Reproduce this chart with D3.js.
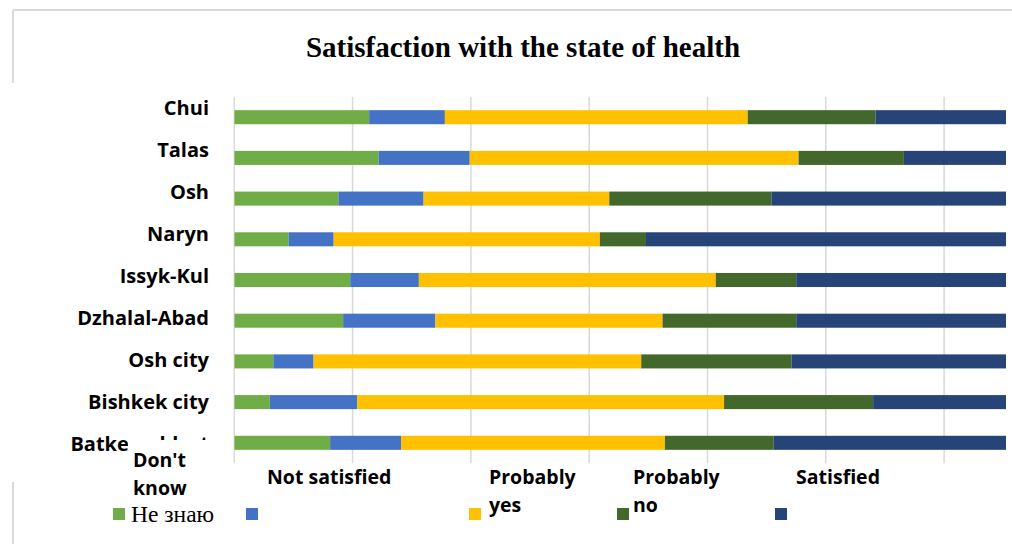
<!DOCTYPE html>
<html>
<head>
<meta charset="utf-8">
<script src="https://cdn.jsdelivr.net/npm/d3@7"></script>
<style>
  html, body { margin: 0; padding: 0; background: #fff; }
  svg { display: block; }
</style>
</head>
<body>
<svg id="chart" width="1012" height="544"></svg>
<script>
// Regions (top to bottom) and shares of answers, %
const categories = ["Chui", "Talas", "Osh", "Naryn", "Issyk-Kul", "Dzhalal-Abad", "Osh city", "Bishkek city", "Batken oblast"];
const dontKnow     = [11.4, 12.2,  8.8,  4.6,  9.8,  9.2,  3.3,  3.0,  8.1];
const notSatisfied = [ 6.4,  7.7,  7.2,  3.8,  5.8,  7.8,  3.4,  7.4,  6.0];
const probablyYes  = [25.6, 27.8, 15.7, 22.5, 25.1, 19.2, 27.7, 31.0, 22.3];
const probablyNo   = [10.8,  8.9, 13.7,  3.9,  6.8, 11.3, 12.7, 12.6,  9.2];
const satisfied    = [45.8, 43.4, 54.6, 65.2, 52.5, 52.5, 52.9, 46.0, 54.4];

const seriesKeys   = ["dontKnow", "notSatisfied", "probablyYes", "probablyNo", "satisfied"];
const seriesLabels = [["Don't", "know"], ["Not satisfied"], ["Probably", "yes"], ["Probably", "no"], ["Satisfied"]];
const legendNative = ["Не знаю"];
const xTicks = [0, 10, 20, 30, 40, 50, 60, 70, 80, 90, 100];
const title = "Satisfaction with the state of health";

const colors = ["#70ad47", "#4472c4", "#ffc000", "#43682b", "#264478"];

const rows = categories.map((c, i) => ({
  region: c,
  dontKnow: dontKnow[i],
  notSatisfied: notSatisfied[i],
  probablyYes: probablyYes[i],
  probablyNo: probablyNo[i],
  satisfied: satisfied[i]
}));

const svg = d3.select("#chart");
const plot = { left: 234.3, right: 1006, top: 96.7, bottom: 463.3 };

// chart frame (left edge is interrupted by the label panels)
const frame = svg.append("g").attr("stroke", "#d9d9d9").attr("stroke-width", 2).attr("fill", "none");
frame.append("line").attr("x1", 13).attr("y1", 10).attr("x2", 1012).attr("y2", 10);
frame.append("line").attr("x1", 13).attr("y1", 10).attr("x2", 13).attr("y2", 83);
frame.append("line").attr("x1", 13).attr("y1", 482).attr("x2", 13).attr("y2", 544);

// title
svg.append("text")
  .attr("x", 523).attr("y", 57)
  .attr("text-anchor", "middle")
  .attr("font-family", "'Liberation Serif', 'Times New Roman', serif")
  .attr("font-weight", "bold")
  .attr("font-size", 29)
  .attr("fill", "#000")
  .text(title);

// scales: 10% per gridline, plot area shows the left part of the 0–100% axis
const x = d3.scaleLinear().domain([0, 100]).range([plot.left, plot.left + 1183]);
const y = d3.scaleBand().domain(categories).range([plot.top, plot.bottom])
  .paddingInner(0.655).paddingOuter(0.331);
const yLabel = d3.scalePoint().domain(categories).range([115, 451]);

svg.append("defs").append("clipPath").attr("id", "plotClip")
  .append("rect")
  .attr("x", plot.left).attr("y", plot.top)
  .attr("width", plot.right - plot.left).attr("height", plot.bottom - plot.top);

// vertical gridlines
svg.append("g")
  .selectAll("line")
  .data(xTicks.filter(t => x(t) <= plot.right))
  .join("line")
  .attr("x1", d => x(d)).attr("x2", d => x(d))
  .attr("y1", plot.top).attr("y2", plot.bottom)
  .attr("stroke", "#d9d9d9").attr("stroke-width", 1.5);

// stacked bars
const stack = d3.stack().keys(seriesKeys)(rows);
svg.append("g").attr("clip-path", "url(#plotClip)")
  .selectAll("g")
  .data(stack)
  .join("g")
  .attr("fill", (d, i) => colors[i])
  .selectAll("rect")
  .data(d => d)
  .join("rect")
  .attr("x", d => x(d[0]))
  .attr("y", d => y(d.data.region))
  .attr("width", d => x(d[1]) - x(d[0]))
  .attr("height", y.bandwidth());

// category labels
const labelFont = "'Open Sans', 'Noto Sans', sans-serif";
svg.append("g")
  .selectAll("text")
  .data(categories)
  .join("text")
  .attr("x", 209)
  .attr("y", d => yLabel(d))
  .attr("text-anchor", "end")
  .attr("font-family", labelFont)
  .attr("font-weight", "bold")
  .attr("font-size", 20)
  .attr("fill", "#000")
  .text(d => d);

// legend: swatches with native label
const legend = svg.append("g");
const swatchX = [113, 246, 469, 617, 775];
legend.selectAll("rect")
  .data(colors)
  .join("rect")
  .attr("x", (d, i) => swatchX[i]).attr("y", 508)
  .attr("width", 12).attr("height", 12)
  .attr("fill", d => d);
legend.append("text")
  .attr("x", 131).attr("y", 522)
  .attr("font-family", "'Liberation Serif', 'Times New Roman', serif")
  .attr("font-size", 23.5)
  .attr("fill", "#000")
  .text(legendNative[0]);

// English caption boxes over the legend
const captionPos = [
  { x: 133, y: 466.5, box: [128, 440, 98, 60] },
  { x: 267, y: 483.5, box: null },
  { x: 489, y: 484, box: null },
  { x: 633, y: 484, box: null },
  { x: 796, y: 484, box: null }
];
captionPos.forEach((p, i) => {
  if (p.box) {
    svg.append("rect")
      .attr("x", p.box[0]).attr("y", p.box[1])
      .attr("width", p.box[2]).attr("height", p.box[3])
      .attr("fill", "#fff");
  }
  const t = svg.append("text")
    .attr("font-family", labelFont)
    .attr("font-weight", "bold")
    .attr("font-size", 19.5)
    .attr("fill", "#000");
  seriesLabels[i].forEach((line, k) => {
    t.append("tspan").attr("x", p.x).attr("y", p.y + k * 28).text(line);
  });
});
</script>
</body>
</html>
